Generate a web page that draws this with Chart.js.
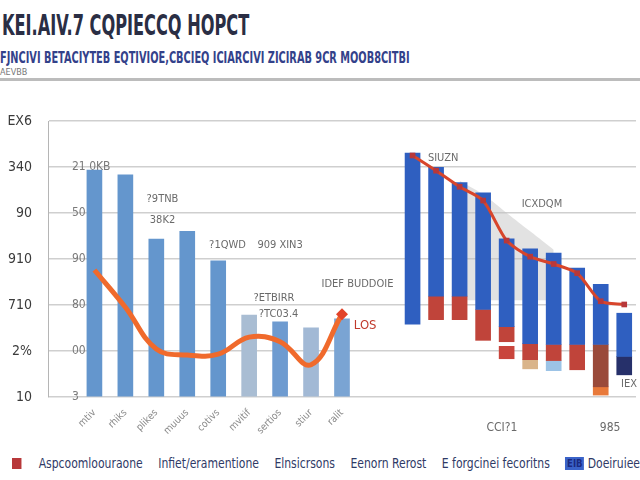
<!DOCTYPE html>
<html lang="en">
<head>
    <meta charset="UTF-8">
    <title>KEI.AIV.7 CQPIECCQ HOPCT</title>
    <script src="https://cdn.jsdelivr.net/npm/chart.js"></script>
    <style>
        body { margin: 0; width: 640px; height: 480px; background: #fff; overflow: hidden; position: relative;
               font-family: "Liberation Sans Narrow", "DejaVu Sans Condensed", Arial, sans-serif; }
        #title { position: absolute; left: 2px; top: 8px; font-size: 29px; font-weight: bold; color: #2a2e44;
                 transform: scaleX(0.62); transform-origin: left top; white-space: nowrap; }
        #subtitle { position: absolute; left: 0; top: 48px; font-size: 16px; font-weight: bold; color: #33418a;
                    transform: scaleX(0.68); transform-origin: left top; white-space: nowrap; }
        #note { position: absolute; left: 0; top: 67px; font-size: 9px; color: #777; }
        #rule { position: absolute; left: 0; top: 78px; width: 640px; height: 3px; background: #bcbcbc; }
        #chartBox { position: absolute; left: 0; top: 85px; }
        #legend { position: absolute; left: 12px; top: 455px; display: flex; align-items: center; white-space: nowrap;
                  font-size: 14px; color: #2f3a66; transform: scaleX(0.86); transform-origin: left top; }
        #legend span { margin-right: 18px; }
        .sw { display: inline-block; width: 11px; height: 11px; margin-right: 20px; vertical-align: middle; }
        .swb { display: inline-block; padding: 0 2px; font-size: 11px; color: #1b2a80; background: #3a63c9; margin-right: 4px; }
    </style>
</head>
<body>
    <div id="title">KEI.AIV.7 CQPIECCQ HOPCT</div>
    <div id="subtitle">FJNCIVI BETACIYTEB EQTIVIOE,CBCIEQ ICIARCIVI ZICIRAB 9CR MOOB8CITBI</div>
    <div id="note">AEVBB</div>
    <div id="rule"></div>
    <div id="chartBox"><canvas id="mainChart" width="640" height="365"></canvas></div>
    <div id="legend">
        <i class="sw" style="background:#b8383a"></i>
        <span>Aspcoomloouraone</span>
        <span>Infiet/eramentione</span>
        <span>Elnsicrsons</span>
        <span>Eenorn Rerost</span>
        <span>E forgcinei fecoritns</span>
        <b class="swb">EIB</b><span>Doeiruieer</span>
    </div>

    <script>
        // valeurs
        const leftCategories = ['mtiv', 'rhiks', 'plikes', 'muuus', 'cotivs', 'mvitif', 'sertios', 'stiur', 'ralit'];
        const leftBars = [4.93, 4.83, 3.43, 3.60, 2.96, 1.78, 1.63, 1.50, 1.70];
        const leftLine = [2.76, 1.95, 1.04, 0.91, 0.93, 1.30, 1.20, 0.70, 1.80];

        const rightCategories = ['r1', 'r2', 'r3', 'r4', 'r5', 'r6', 'r7', 'r8', 'r9', 'r10'];
        const rightTop = [[1.58, 5.30], [2.19, 4.99], [2.19, 4.66], [1.90, 4.44], [1.53, 3.44],
                          [1.16, 3.22], [1.14, 3.13], [1.14, 2.80], [1.14, 2.45], [0.88, 1.82]];
        const rightMid = [null, [1.68, 2.19], [1.68, 2.19], [1.23, 1.90], [1.20, 1.53],
                          [0.81, 1.16], [0.79, 1.14], [0.59, 1.14], [0.22, 1.14], [0.48, 0.88]];
        const rightLow = [null, null, null, null, [0.83, 1.10], [0.61, 0.81], [0.57, 0.79], null, [0.04, 0.22], null];
        const rightLine = [5.25, 4.92, 4.57, 4.27, 3.40, 3.05, 2.89, 2.69, 2.08, 2.01];
        const rightShade = [null, null, 4.70, 4.40, 4.00, 3.60, 3.20, null, null, null];

        const outerTicks = ['10', '2%', '710', '910', '90', '340', 'EX6'];
        const innerTicks = ['3', '00', '80', '90', '50', '21 0KB', ''];

        const font = '"Liberation Sans Narrow", "DejaVu Sans Condensed", Arial, sans-serif';

        // les deux groupes partagent le même axe Y, chacun a son axe X
        const leftPad = 1, leftCount = 19;
        const rightPad = 15, rightCount = 25;
        function padTo(arr, before, total, fill) {
            const out = Array(before).fill(fill).concat(arr);
            while (out.length < total) out.push(fill);
            return out;
        }

        const notes = [
            { axis: 'x', at: 3.2, v: 4.3, text: '?9TNB' },
            { axis: 'x', at: 3.2, v: 3.85, text: '38K2' },
            { axis: 'x', at: 5.3, v: 3.3, text: '?1QWD' },
            { axis: 'x', at: 7.0, v: 3.3, text: '909 XIN3' },
            { axis: 'x', at: 6.8, v: 2.15, text: '?ETBIRR' },
            { axis: 'x', at: 6.95, v: 1.8, text: '?TC03.4' },
            { axis: 'x', at: 9.5, v: 2.45, text: 'IDEF BUDDOIE' },
            { axis: 'x', at: 9.75, v: 1.55, text: 'LOS', color: '#c0392b', size: 13 },
            { axis: 'x2', at: 16.3, v: 5.2, text: 'SIUZN' },
            { axis: 'x2', at: 20.5, v: 4.2, text: 'ICXDQM' },
            { axis: 'x2', at: 24.2, v: 0.28, text: 'IEX' },
            { axis: 'x2', at: 18.8, v: -0.68, text: 'CCI?1', size: 12 },
            { axis: 'x2', at: 23.4, v: -0.68, text: '985', size: 12 }
        ];

        const notesPlugin = {
            id: 'notes',
            afterDatasetsDraw(chart) {
                const ctx = chart.ctx;
                ctx.save();
                ctx.textAlign = 'center';
                ctx.textBaseline = 'middle';
                notes.forEach(n => {
                    const x = chart.scales[n.axis].getPixelForValue(n.at);
                    const y = chart.scales.y.getPixelForValue(n.v);
                    ctx.font = (n.size || 11) + 'px ' + font;
                    ctx.fillStyle = n.color || '#6a6a6a';
                    ctx.fillText(n.text, x, y);
                });
                ctx.restore();
            }
        };

        const ctx = document.getElementById('mainChart').getContext('2d');
        new Chart(ctx, {
            type: 'bar',
            data: {
                datasets: [
                    {
                        type: 'line', xAxisID: 'x', order: 1,
                        data: padTo(leftLine, leftPad, leftCount, null),
                        borderColor: '#f06a2c', borderWidth: 5, tension: 0.4, fill: false,
                        pointRadius: padTo([0, 0, 0, 0, 0, 0, 0, 0, 6], leftPad, leftCount, 0),
                        pointStyle: 'rectRot', pointBackgroundColor: '#e2432a', pointBorderWidth: 0
                    },
                    {
                        type: 'line', xAxisID: 'x2', order: 1,
                        data: padTo(rightLine, rightPad, rightCount, null),
                        borderColor: '#d8452b', borderWidth: 3, tension: 0.25, fill: false,
                        pointRadius: 4, pointStyle: 'rect', pointBackgroundColor: '#b8383a', pointBorderWidth: 0
                    },
                    {
                        xAxisID: 'x', order: 5, grouped: false, barThickness: 15,
                        data: padTo(leftBars, leftPad, leftCount, null),
                        backgroundColor: padTo(['#6496cd', '#6496cd', '#6496cd', '#6496cd', '#6496cd',
                                                '#a9bdd3', '#6e9bd0', '#a2b9d5', '#7aa4d3'], leftPad, leftCount, '#6496cd')
                    },
                    {
                        xAxisID: 'x2', order: 5, grouped: false, barThickness: 15,
                        data: padTo(rightTop, rightPad, rightCount, null),
                        backgroundColor: '#2f5fc0'
                    },
                    {
                        xAxisID: 'x2', order: 5, grouped: false, barThickness: 15,
                        data: padTo(rightMid, rightPad, rightCount, null),
                        backgroundColor: padTo(['#c0443a', '#c0443a', '#c0443a', '#c0443a', '#c0443a',
                                                '#c0443a', '#c0443a', '#c0443a', '#9a4a3a', '#26306a'], rightPad, rightCount, '#c0443a')
                    },
                    {
                        xAxisID: 'x2', order: 5, grouped: false, barThickness: 15,
                        data: padTo(rightLow, rightPad, rightCount, null),
                        backgroundColor: padTo(['#c0443a', '#c0443a', '#c0443a', '#c0443a', '#c9453c',
                                                '#d9b48a', '#9cc3e6', '#c0443a', '#e8793a', '#c0443a'], rightPad, rightCount, '#c0443a')
                    },
                    {
                        type: 'line', xAxisID: 'x2', order: 9,
                        data: padTo(rightShade, rightPad, rightCount, null),
                        borderWidth: 0, pointRadius: 0, tension: 0.4,
                        fill: { value: 2.1 }, backgroundColor: 'rgba(190, 190, 190, 0.45)'
                    }
                ]
            },
            options: {
                responsive: false,
                animation: false,
                layout: { padding: { top: 36, right: 0, bottom: 11, left: 0 } },
                plugins: { legend: { display: false }, tooltip: { enabled: false } },
                scales: {
                    x: {
                        type: 'category', offset: true,
                        labels: padTo(leftCategories, leftPad, leftCount, ''),
                        grid: { display: false }, border: { display: false },
                        ticks: { autoSkip: false, minRotation: 45, maxRotation: 45, padding: 2,
                                 color: '#8a8a8a', font: { size: 10, family: font } }
                    },
                    x2: {
                        type: 'category', offset: true, display: false,
                        labels: padTo(rightCategories, rightPad, rightCount, '')
                    },
                    y: {
                        position: 'left', weight: 1, min: 0, max: 6,
                        afterFit: s => { s.width = 48; },
                        ticks: { stepSize: 1, padding: 16, color: '#3b3b3b', font: { size: 14, family: font },
                                 callback: v => outerTicks[v] },
                        grid: { color: '#cfcfcf', lineWidth: 1.5, drawTicks: false },
                        border: { display: true, color: '#b5b5b5' }
                    },
                    y2: {
                        position: 'left', weight: 0, min: 0, max: 6,
                        afterFit: s => { s.width = 0; },
                        grid: { display: false }, border: { display: false },
                        ticks: { stepSize: 1, mirror: true, padding: 24, color: '#7a7a7a', font: { size: 12, family: font },
                                 callback: v => innerTicks[v] }
                    }
                }
            },
            plugins: [notesPlugin]
        });
    </script>
</body>
</html>
